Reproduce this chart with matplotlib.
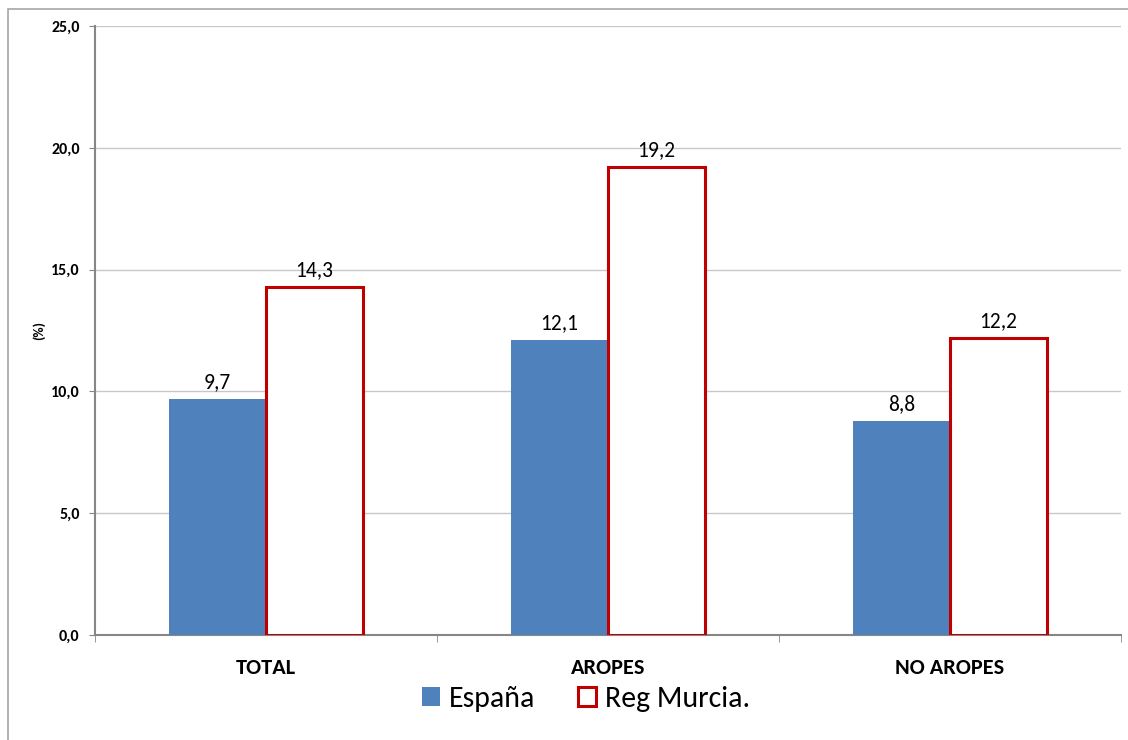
import matplotlib
matplotlib.use("Agg")
import matplotlib.pyplot as plt
from matplotlib.patches import Rectangle
import numpy as np

categories = ["TOTAL", "AROPES", "NO AROPES"]
espana = [9.7, 12.1, 8.8]
murcia = [14.3, 19.2, 12.2]
series_names = ["España", "Reg Murcia."]
yticks = [0, 5, 10, 15, 20, 25]

plt.rcParams['font.family'] = ['Carlito', 'DejaVu Sans']

fig = plt.figure(figsize=(11.28, 7.4), dpi=100)
ax = fig.add_axes([95/1128, 1-635/740, (1121-95)/1128, (635-26)/740])

# outer chart frame
fig.patches.append(Rectangle((8/1128, -0.1), 1.2, 1.1 - 9/740, transform=fig.transFigure,
                             fill=False, edgecolor="#a6a6a6", linewidth=1.2, clip_on=False))

x = np.arange(len(categories))
w = 0.284
b1 = ax.bar(x - w/2, espana, w, color="#4F81BD", edgecolor="none", label=series_names[0], zorder=3)
b2 = ax.bar(x + w/2, murcia, w, facecolor="white", edgecolor="#C00000", linewidth=2.2,
            label=series_names[1], zorder=3)

for bars, vals in ((b1, espana), (b2, murcia)):
    for r, v in zip(bars, vals):
        ax.annotate(f"{v:.1f}".replace(".", ","), (r.get_x() + r.get_width()/2, v),
                    xytext=(0, 5), textcoords="offset points", ha="center", va="bottom",
                    fontsize=15.5, color="black")

ax.set_xlim(-0.5, 2.5)
ax.set_ylim(0, 25)
ax.set_yticks(yticks)
ax.set_yticklabels([f"{t:.1f}".replace(".", ",") for t in yticks], fontsize=11.5, fontweight="bold")
ax.yaxis.grid(True, color="#c8c8c8", linewidth=1, zorder=0)
ax.set_axisbelow(True)

ax.set_xticks(x)
ax.set_xticklabels(categories, fontsize=16, fontweight="bold")
ax.tick_params(axis="x", length=0, pad=16.5)
ax.set_xticks(np.arange(-0.5, 2.6, 1), minor=True)
ax.tick_params(axis="x", which="minor", length=5, color="#868686", direction="out")
ax.tick_params(axis="y", length=4, color="#868686", direction="out", pad=7)

for s in ("top", "right"):
    ax.spines[s].set_visible(False)
for s in ("left", "bottom"):
    ax.spines[s].set_color("#868686")
    ax.spines[s].set_linewidth(1.5)

ax.set_ylabel("(%)", fontsize=10, fontweight="bold", labelpad=4)

leg = fig.legend(handles=[b1, b2], labels=series_names, loc="center", bbox_to_anchor=(586/1128, 1-699/740),
                 ncol=2, frameon=False, fontsize=21.5, handlelength=0.6, handleheight=0.6,
                 handletextpad=0.3, columnspacing=1.45)

fig.savefig("out.png", dpi=100)
